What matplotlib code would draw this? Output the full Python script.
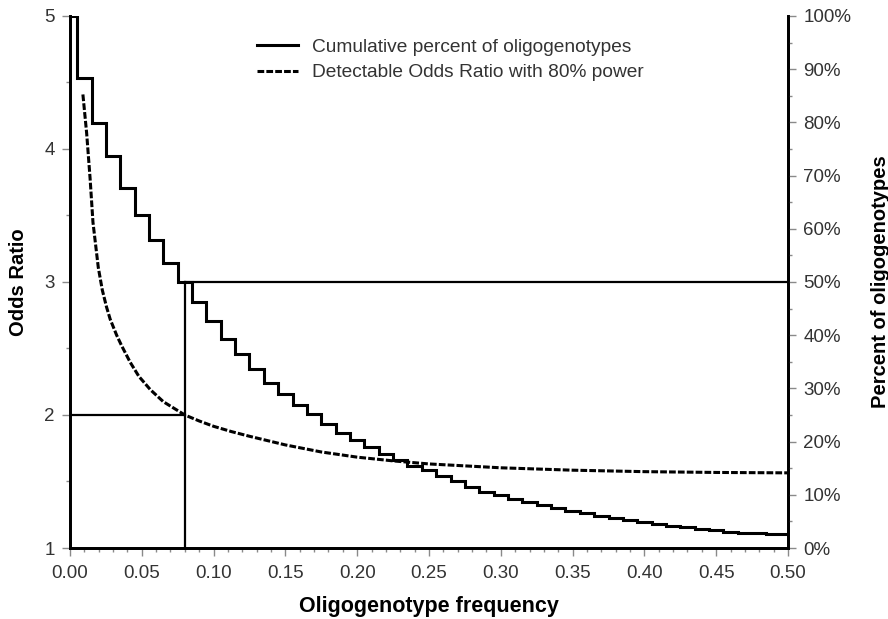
import matplotlib
matplotlib.use('Agg')
import matplotlib.pyplot as plt
from matplotlib.ticker import MultipleLocator, FuncFormatter

plt.rcParams['font.family'] = ['Liberation Sans', 'DejaVu Sans']

# cumulative percent of oligogenotypes, one value per 0.01 of frequency
cum_freq = [i / 100 for i in range(51)]
cum_pct = [100, 88.3, 79.9, 73.6, 67.7, 62.5, 57.9, 53.5, 50.0, 46.2,
           42.7, 39.3, 36.4, 33.6, 31.1, 28.9, 26.9, 25.2, 23.4, 21.7,
           20.3, 18.9, 17.6, 16.5, 15.5, 14.6, 13.5, 12.5, 11.5, 10.6,
           10.0, 9.3, 8.6, 8.0, 7.5, 7.0, 6.5, 6.1, 5.7, 5.3,
           4.9, 4.6, 4.2, 3.9, 3.6, 3.4, 3.1, 2.9, 2.8, 2.6, 2.6]

# detectable odds ratio with 80% power
or_freq = [0.009, 0.0116, 0.014, 0.016, 0.0197, 0.0225, 0.0255, 0.028, 0.0325,
           0.036, 0.042, 0.048, 0.056, 0.065, 0.08, 0.09, 0.10, 0.1125, 0.125,
           0.15, 0.175, 0.20, 0.225, 0.25, 0.30, 0.35, 0.40, 0.45, 0.50]
or_vals = [4.41, 4.12, 3.78, 3.45, 3.11, 2.94, 2.81, 2.72, 2.60,
           2.52, 2.395, 2.29, 2.19, 2.10, 2.00, 1.955, 1.915, 1.875, 1.84,
           1.775, 1.722, 1.683, 1.655, 1.632, 1.603, 1.585, 1.574, 1.568, 1.565]

cut_freq = 0.08
cut_or = 2.0
cut_pct = 50

TICK_C = '#8a8a8a'
TEXT_C = '#333333'

fig, ax = plt.subplots(figsize=(8.88, 6.19), dpi=100)
fig.subplots_adjust(left=0.0788, right=0.8874, bottom=0.1147, top=0.9742)
ax2 = ax.twinx()

ax.set_xlim(0, 0.5)
ax.set_ylim(1, 5)
ax2.set_ylim(0, 100)

l1, = ax2.plot(cum_freq, cum_pct, drawstyle='steps-mid', color='black', lw=2.2,
               solid_joinstyle='miter', label='Cumulative percent of oligogenotypes')
l2, = ax.plot(or_freq, or_vals, color='black', lw=2.2, linestyle=(0, (2.2, 0.7)),
              label='Detectable Odds Ratio with 80% power')

# reference lines
ax.plot([0, cut_freq], [cut_or, cut_or], color='black', lw=1.6)
ax2.plot([cut_freq, 0.5], [cut_pct, cut_pct], color='black', lw=1.6)
ax2.plot([cut_freq, cut_freq], [0, cut_pct], color='black', lw=1.6)

for a in (ax, ax2):
    a.spines['top'].set_visible(False)
    for s in ('left', 'right', 'bottom'):
        a.spines[s].set_linewidth(2)
        a.spines[s].set_color('black')

ax.xaxis.set_major_locator(MultipleLocator(0.05))
ax.xaxis.set_minor_locator(MultipleLocator(0.01))
ax.xaxis.set_major_formatter(FuncFormatter(lambda v, p: f'{v:.2f}'))
ax.yaxis.set_major_locator(MultipleLocator(1))
ax.yaxis.set_minor_locator(MultipleLocator(0.5))
ax2.yaxis.set_major_locator(MultipleLocator(10))
ax2.yaxis.set_minor_locator(MultipleLocator(5))
ax2.yaxis.set_major_formatter(FuncFormatter(lambda v, p: f'{v:.0f}%'))

for a in (ax, ax2):
    a.tick_params(which='major', length=6, width=1, color=TICK_C, pad=5,
                  labelcolor=TEXT_C, labelsize=13.5)
    a.tick_params(which='minor', length=3, width=1, color=TICK_C)
ax.tick_params(axis='x', which='major', pad=6)

ax.set_xlabel('Oligogenotype frequency', fontsize=15.5, fontweight='bold', labelpad=10)
ax.set_ylabel('Odds Ratio', fontsize=14.5, fontweight='bold', labelpad=12)
ax2.set_ylabel('Percent of oligogenotypes', fontsize=14.5, fontweight='bold', labelpad=14)

ax2.legend(handles=[l1, l2], loc='upper left', bbox_to_anchor=(0.237, 0.99),
           frameon=False, fontsize=13.8, handlelength=2.1, handletextpad=0.75,
           labelspacing=0.42, labelcolor=TEXT_C)

plt.savefig('out.png', dpi=100)
